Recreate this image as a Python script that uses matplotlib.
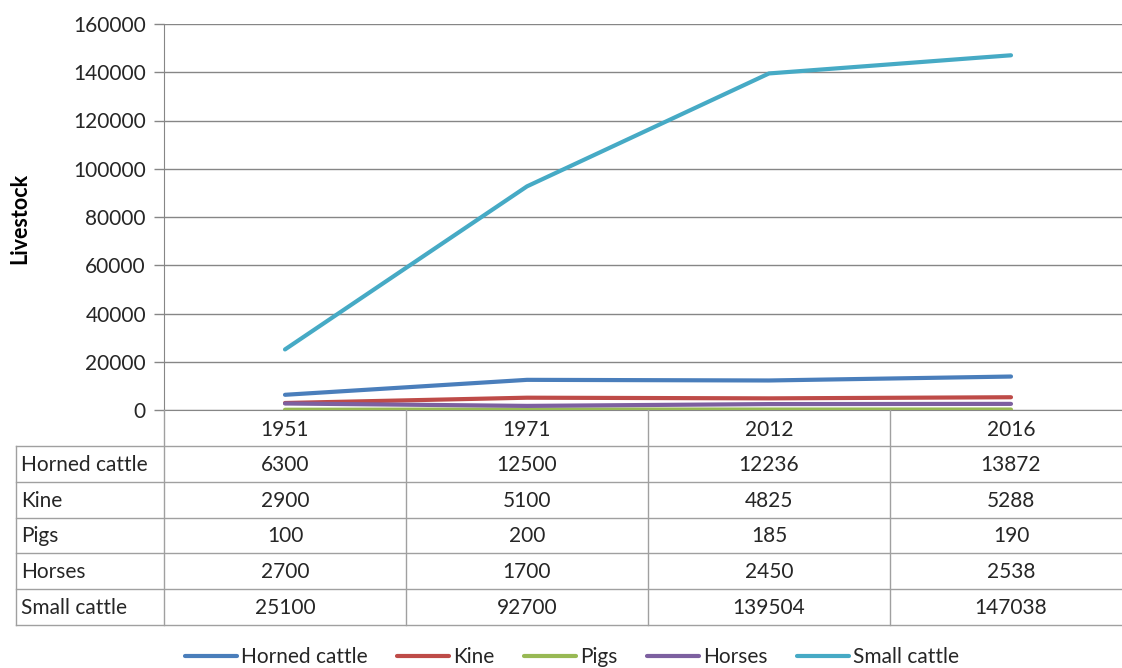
import numpy as np
import matplotlib.pyplot as plt
import matplotlib.transforms as mtransforms

# data
years = ['1951', '1971', '2012', '2016']
series_names = ['Horned cattle', 'Kine', 'Pigs', 'Horses', 'Small cattle']
horned_cattle = [6300, 12500, 12236, 13872]
kine = [2900, 5100, 4825, 5288]
pigs = [100, 200, 185, 190]
horses = [2700, 1700, 2450, 2538]
small_cattle = [25100, 92700, 139504, 147038]
colors = ['#4A7EBB', '#BE4B48', '#98B954', '#7D60A0', '#46AAC5']

values = [horned_cattle, kine, pigs, horses, small_cattle]

plt.rcParams['font.family'] = ['Lato', 'DejaVu Sans']
W, H = 1122, 668
fig = plt.figure(figsize=(W / 100, H / 100), dpi=100)

def fy(py):
    # pixel row (from top) -> figure fraction
    return 1 - py / H

def fx(px):
    return px / W

ax_left, ax_right = 164, 1132
ax_top, ax_bottom = 24, 410
ax = fig.add_axes([fx(ax_left), fy(ax_bottom), fx(ax_right - ax_left), fy(ax_top) - fy(ax_bottom)])

x = np.arange(len(years))
for name, vals, c in zip(series_names, values, colors):
    ax.plot(x, vals, color=c, lw=3, label=name, solid_capstyle='round', zorder=3)

ax.set_xlim(-0.5, len(years) - 0.5)
ax.set_ylim(0, 160000)
ax.set_yticks(np.arange(0, 160001, 20000))
ax.tick_params(axis='y', labelsize=15, colors='#868686', labelcolor='#262626',
               length=7, width=1, direction='out', pad=6)
ax.set_xticks([])
ax.grid(axis='y', color='#868686', lw=1)
ax.set_axisbelow(True)
for s in ['top', 'right']:
    ax.spines[s].set_visible(False)
ax.spines['left'].set_color('#868686')
ax.spines['bottom'].set_color('#868686')

# y label
fig.text(fx(20), fy(218), 'Livestock', rotation=90, fontsize=15.5, fontweight='bold',
         color='#000000', ha='center', va='center')

# data table under the chart
tr = mtransforms.blended_transform_factory(ax.transData, fig.transFigure)
line_kw = dict(color='#A0A0A0', lw=1, clip_on=False)
row_h = 35.8
row_edges = [ax_bottom + 36 + i * row_h for i in range(len(series_names) + 1)]
hdr_mid = (ax_bottom + row_edges[0]) / 2 + 2
table_left = 16

# header row years
for i, yr in enumerate(years):
    fig.text(x[i], fy(hdr_mid), yr, transform=tr, fontsize=15, color='#262626',
             ha='center', va='center')

# vertical column lines
for b in np.arange(-0.5, len(years) - 0.5, 1.0):
    fig.add_artist(plt.Line2D([b, b], [fy(ax_bottom), fy(row_edges[-1])], transform=tr, **line_kw))
# left border of label column
fig.add_artist(plt.Line2D([fx(table_left)] * 2, [fy(row_edges[0]), fy(row_edges[-1])],
                          transform=fig.transFigure, **line_kw))
# horizontal row lines
for e in row_edges:
    fig.add_artist(plt.Line2D([fx(table_left), 1], [fy(e), fy(e)],
                              transform=fig.transFigure, **line_kw))

for r, (name, vals) in enumerate(zip(series_names, values)):
    mid = (row_edges[r] + row_edges[r + 1]) / 2 + 1
    fig.text(fx(table_left + 5), fy(mid), name, fontsize=15, color='#262626', ha='left', va='center')
    for i, v in enumerate(vals):
        fig.text(x[i], fy(mid), str(v), transform=tr, fontsize=15, color='#262626',
                 ha='center', va='center')

fig.legend(loc='center', bbox_to_anchor=(fx(572), fy(657)), ncol=5, frameon=False,
           fontsize=15, handlelength=2.5, handletextpad=0.2, columnspacing=1.4,
           labelcolor='#262626')

fig.savefig('out.png', dpi=100)
